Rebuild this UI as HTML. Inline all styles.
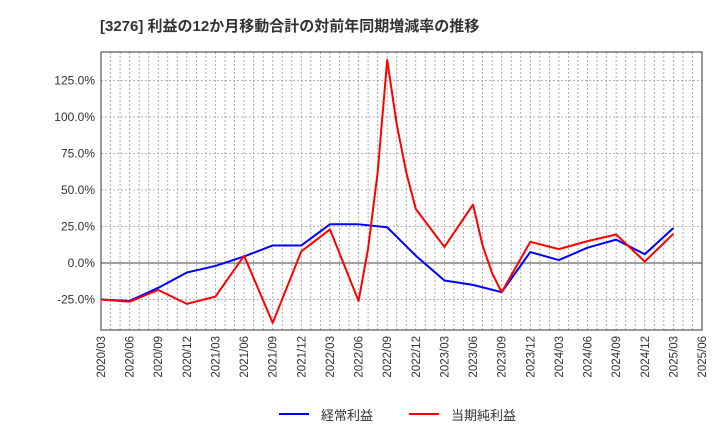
<!DOCTYPE html>
<html><head><meta charset="utf-8"><style>
body{margin:0;background:#fff;font-family:"Liberation Sans","Noto Sans CJK JP",sans-serif;}
</style></head><body>
<svg id="c" width="720" height="440" xmlns="http://www.w3.org/2000/svg">
<text x="100" y="31" font-size="15" font-weight="bold" fill="#333" font-family="Liberation Sans, Noto Sans CJK JP, sans-serif">[3276]  利益の12か月移動合計の対前年同期増減率の推移</text>
<g id="grid"></g><g id="axes"></g><g id="series"></g>
<g>
<line x1="279" y1="414" x2="309" y2="414" stroke="#0000ff" stroke-width="2"/>
<text x="321" y="420" font-size="13" fill="#333">経常利益</text>
<line x1="409" y1="414" x2="439" y2="414" stroke="#ff0000" stroke-width="2"/>
<text x="451" y="420" font-size="13" fill="#333">当期純利益</text>
</g>
</svg>
<script>
const xLabels=["2020/03","2020/06","2020/09","2020/12","2021/03","2021/06","2021/09","2021/12","2022/03","2022/06","2022/09","2022/12","2023/03","2023/06","2023/09","2023/12","2024/03","2024/06","2024/09","2024/12","2025/03","2025/06"];
const yTicks=[-25,0,25,50,75,100,125];
const blueMonths=[0,3,6,9,12,15,18,21,24,27,30,33,36,39,42,45,48,51,54,57,60];
const blueValues=[-25,-26,-17,-6.5,-2,4.5,12,12,26.5,26.5,24.5,5,-12,-15,-20,7.5,2,10.5,16,6,24];
const redMonths=[0,3,6,9,12,15,18,21,24,27,28,29,30,31,32,33,36,39,40,41,42,45,48,51,54,57,60];
const redValues=[-25,-26.5,-18.5,-28,-23,5,-41,8,23,-26,10,62,139,95,62,37,11,40,12,-7,-20,14.5,9.5,15,19.5,1,20];
const L=101,R=702,T=52,B=330;
const xs=m=>L+m*(R-L)/63;
const ys=v=>263-v*1.46;
const NS="http://www.w3.org/2000/svg";
function mk(tag,attrs,parent){const e=document.createElementNS(NS,tag);for(const k in attrs)e.setAttribute(k,attrs[k]);document.getElementById(parent).appendChild(e);return e;}
for(let m=1;m<63;m++){const e=mk('line',{x1:xs(m),x2:xs(m),y1:T,y2:B,stroke:'#999','stroke-dasharray':'2,2','stroke-width':0.8},'grid');

}
yTicks.forEach(v=>{const e=mk('line',{x1:L,x2:R,y1:ys(v),y2:ys(v),stroke:v===0?'#666':'#999','stroke-dasharray':v===0?'':'2,2','stroke-width':v===0?1.2:0.8},'grid');


const t=mk('text',{x:L-6,y:ys(v)+4,'text-anchor':'end','font-size':12,fill:'#333'},'axes');t.textContent=v.toFixed(1)+'%';

});
const fr=mk('rect',{x:L,y:T,width:R-L,height:B-T,fill:'none',stroke:'#333','stroke-width':1},'axes');


xLabels.forEach((s,i)=>{const x=xs(i*3);const t=mk('text',{x:x+4,y:B+6,'text-anchor':'end','font-size':11.5,fill:'#333',transform:`rotate(-90 ${x+4} ${B+6})`},'axes');t.textContent=s;

});
function line(ms,vs,c,name){const p=ms.map((m,i)=>xs(m)+','+ys(vs[i])).join(' ');const e=mk('polyline',{points:p,fill:'none',stroke:c,'stroke-width':2,'stroke-linejoin':'round'},'series');

}
line(blueMonths,blueValues,'#0000ff','ordinary-profit-line');
line(redMonths,redValues,'#ff0000','net-profit-line');
</script>
</body></html>
